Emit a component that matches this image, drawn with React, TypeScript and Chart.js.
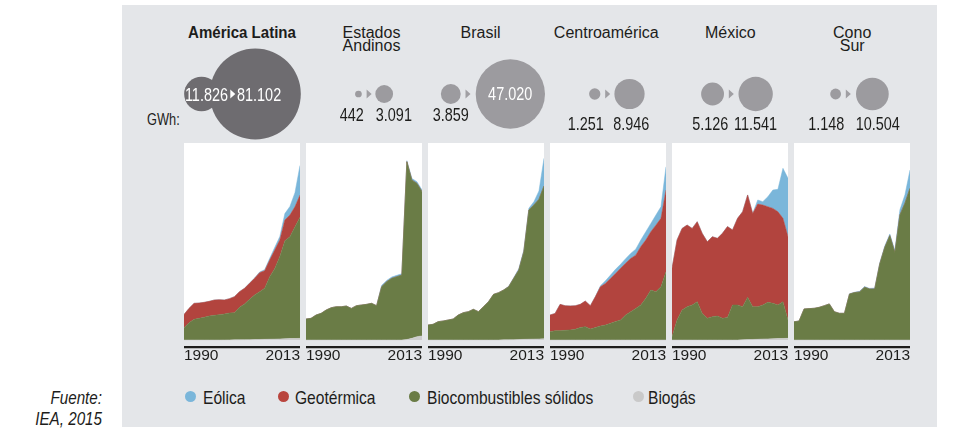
import React, { useEffect, useRef } from "react";
import { Chart, registerables } from "chart.js";

Chart.register(...registerables);

// ---------------- data ----------------
const YEARS = [
  "1990", "1991", "1992", "1993", "1994", "1995", "1996", "1997", "1998", "1999", "2000", "2001",
  "2002", "2003", "2004", "2005", "2006", "2007", "2008", "2009", "2010", "2011", "2012", "2013",
];

const REGIONS = ["América Latina", "Estados\nAndinos", "Brasil", "Centroamérica", "México", "Cono\nSur"];
const GWH_1990 = [11826, 442, 3859, 1251, 5126, 1148];
const GWH_2013 = [81102, 3091, 47020, 8946, 11541, 10504];
// top of each small chart's value axis (GWh)
const Y_MAX = [91300, 4110, 51000, 10170, 14070, 12170];

const SERIES_NAMES = ["Eólica", "Geotérmica", "Biocombustibles sólidos", "Biogás"];

// América Latina
const AL_EOLICA = [0, 0, 0, 0, 0, 0, 0, 0, 0, 0, 0, 0, 0, 150, 150, 300, 460, 770, 1240, 1550, 3000, 4000, 6500, 13700];
const AL_GEOTERMICA = [6180, 6640, 7420, 7110, 6950, 6800, 7110, 6950, 6490, 6640, 7420, 7260, 7260, 7420, 7730, 8810, 8190, 7730, 8500, 7730, 9580, 10040, 9270, 10350];
const AL_BIOCOMB = [5650, 8030, 9580, 10040, 10510, 11120, 11430, 11740, 12020, 12460, 12590, 15040, 16540, 18670, 20660, 22150, 23650, 29000, 32800, 38150, 45400, 47200, 51800, 56100];
const AL_BIOGAS = [0, 0, 0, 0, 0, 0, 0, 0, 30, 60, 80, 100, 150, 180, 200, 250, 300, 350, 400, 500, 600, 650, 700, 750];

// Estados Andinos
const EA_EOLICA = [0, 0, 0, 0, 0, 0, 0, 0, 0, 0, 0, 0, 0, 0, 0, 28, 28, 28, 28, 28, 21, 35, 35, 35];
const EA_GEOTERMICA = [0, 0, 0, 0, 0, 0, 0, 0, 0, 0, 0, 0, 0, 0, 0, 0, 0, 0, 0, 0, 0, 0, 0, 0];
const EA_BIOCOMB = [438, 452, 521, 556, 626, 674, 695, 695, 709, 660, 716, 730, 744, 765, 716, 1112, 1216, 1286, 1321, 1355, 3710, 3300, 3197, 3009];
const EA_BIOGAS = [0, 0, 0, 0, 0, 0, 0, 0, 0, 0, 0, 0, 0, 0, 0, 0, 0, 0, 0, 0, 10, 35, 70, 85];

// Brasil
const BR_EOLICA = [0, 0, 0, 0, 0, 0, 0, 0, 0, 0, 0, 0, 0, 0, 0, 0, 90, 170, 350, 430, 430, 860, 2160, 7160];
const BR_GEOTERMICA = [0, 0, 0, 0, 0, 0, 0, 0, 0, 0, 0, 0, 0, 0, 0, 0, 0, 0, 0, 0, 0, 0, 0, 0];
const BR_BIOCOMB = [3880, 4060, 4750, 4920, 5180, 5440, 6470, 7080, 7340, 7940, 7340, 8630, 9930, 11820, 12260, 12910, 13750, 15880, 17990, 22700, 33460, 34720, 36160, 39570];
const BR_BIOGAS = [0, 0, 0, 0, 0, 0, 0, 0, 0, 0, 0, 0, 0, 0, 0, 40, 60, 90, 130, 170, 200, 230, 260, 300];

// Centroamérica
const CA_EOLICA = [0, 0, 0, 0, 0, 0, 0, 0, 0, 0, 50, 140, 170, 210, 210, 240, 260, 310, 340, 430, 430, 520, 600, 1200];
const CA_GEOTERMICA = [860, 890, 1360, 1270, 1240, 1220, 1200, 1320, 1200, 1600, 2030, 2150, 2320, 2490, 2670, 2670, 2750, 2750, 3010, 3010, 3010, 3440, 3530, 4210];
const CA_BIOCOMB = [430, 480, 480, 500, 520, 550, 640, 690, 570, 640, 720, 770, 860, 950, 1030, 1290, 1460, 1630, 1810, 2150, 2580, 2490, 2750, 3530];
const CA_BIOGAS = [0, 0, 0, 0, 0, 0, 0, 0, 0, 0, 0, 0, 0, 0, 0, 0, 0, 0, 0, 0, 0, 0, 0, 0];

// México
const MX_EOLICA = [0, 0, 0, 0, 0, 0, 0, 0, 0, 0, 0, 0, 0, 0, 0, 0, 0, 290, 240, 710, 1310, 1600, 3570, 4170];
const MX_GEOTERMICA = [4880, 5710, 5830, 5830, 5470, 5710, 5710, 5470, 5710, 5550, 6070, 6500, 5360, 6190, 6780, 7310, 6660, 7330, 7140, 6830, 6780, 6660, 5950, 5950];
const MX_BIOCOMB = [240, 1430, 2140, 2380, 2500, 2740, 1900, 1550, 1670, 1710, 1550, 1600, 2500, 2500, 2360, 3020, 2340, 2330, 2430, 2610, 2530, 2400, 2630, 1310];
const MX_BIOGAS = [0, 0, 0, 0, 0, 0, 0, 0, 0, 0, 0, 0, 0, 0, 20, 30, 40, 50, 70, 80, 90, 100, 110, 120];

// Cono Sur
const CS_EOLICA = [0, 0, 0, 0, 0, 0, 0, 0, 0, 0, 0, 20, 20, 40, 40, 40, 60, 60, 80, 100, 140, 310, 520, 1130];
const CS_GEOTERMICA = [0, 0, 0, 0, 0, 0, 0, 0, 0, 0, 0, 0, 0, 0, 0, 0, 0, 0, 0, 0, 0, 0, 0, 0];
const CS_BIOCOMB = [1130, 1170, 1920, 1940, 1960, 2020, 2120, 2230, 1750, 1650, 1650, 2840, 2930, 2970, 3260, 3150, 3150, 4700, 5730, 6450, 5400, 7730, 8450, 9370];
const CS_BIOGAS = [0, 0, 0, 0, 0, 0, 0, 0, 0, 0, 0, 0, 0, 0, 0, 0, 0, 0, 0, 0, 0, 0, 0, 0];

const REGION_SERIES = [
  [AL_EOLICA, AL_GEOTERMICA, AL_BIOCOMB, AL_BIOGAS],
  [EA_EOLICA, EA_GEOTERMICA, EA_BIOCOMB, EA_BIOGAS],
  [BR_EOLICA, BR_GEOTERMICA, BR_BIOCOMB, BR_BIOGAS],
  [CA_EOLICA, CA_GEOTERMICA, CA_BIOCOMB, CA_BIOGAS],
  [MX_EOLICA, MX_GEOTERMICA, MX_BIOCOMB, MX_BIOGAS],
  [CS_EOLICA, CS_GEOTERMICA, CS_BIOCOMB, CS_BIOGAS],
];

// ---------------- style / layout ----------------
const COLORS = ["#7ab6da", "#b2443e", "#6a7c46", "#cdcdcd"];
const LEGEND_COLORS = ["#7ab6da", "#b9453e", "#6a7c46", "#c9c9c9"];
const BG = "#e4e6e9";
const INK = "#1d1d1b";
const FONT = "'Liberation Sans', Arial, sans-serif";
const SQUEEZE = 0.8; // horizontal condensing of the narrow typeface
const NUM_SQUEEZE = 0.76;
const LEGEND_SQUEEZE = 0.82;

const W = 953;
const H = 443;
const PANEL_W = 116;
const panelLeft = (i: number) => Math.round(184.4 + 121.95 * i);
const panelCenter = (i: number) => panelLeft(i) + PANEL_W / 2;
const PLOT_TOP = 143;
const ZERO_Y = 340;
const CANVAS_H = 222;
const AXIS_LABEL = 18; // x-axis height (font line)

const TITLE_DX = [0, 7.5, -5.5, -1.7, 0.3, 0.2];
// bubbles
const BUBBLE_H = 143;
const ROW_Y = 94;
const R_MAX = 45.5;
const TRI_DX = [-9.5, 4.8, -18.3, -0.6, 1, -4];
const GAP_S = [13.6, 7, 7, 7, 7, 7];
const GAP_B = [-22.7, 6.5, 8, 7, 7.5, 8];
// value labels, relative to the arrow position
const LBL_S_DX = [-4.5, -5, -17, -3.5, -2.7, -3.7];
const LBL_B_DX = [4.5, 7, 42.5, 5.8, 3, 7.7];
const LBL_S_ALIGN = ["right", "right", "center", "right", "right", "right"];
const LBL_B_ALIGN = ["left", "left", "center", "left", "left", "left"];
const LBL_S_Y = [101.3, 121, 121, 130, 130, 130];
const LBL_B_Y = [101.3, 121, 99.5, 130, 130, 130];
const INSIDE_S = [true, false, false, false, false, false];
const INSIDE_B = [true, false, true, false, false, false];
// legend layout (dot centre x, text start x)
const LEGEND_DOT_X = [190.5, 283.6, 414.7, 638.8];
const LEGEND_TEXT_X = [202.6, 295, 426.7, 648];

const fmt = (n: number) => String(n).replace(/\B(?=(\d{3})+(?!\d))/g, ".");
const radius = (v: number) => R_MAX * Math.sqrt(v / GWH_2013[0]);
const triX = (i: number) => panelCenter(i) + TRI_DX[i];
const smallX = (i: number) => triX(i) - GAP_S[i] - radius(GWH_1990[i]);
const bigX = (i: number) => triX(i) + GAP_B[i] + radius(GWH_2013[i]);

const panelBackground = {
  id: "panelBackground",
  beforeDraw(chart: any) {
    const { ctx, chartArea, scales } = chart;
    const zero = scales.y.getPixelForValue(0);
    ctx.save();
    ctx.fillStyle = "#ffffff";
    ctx.fillRect(chartArea.left, chartArea.top, chartArea.right - chartArea.left, zero - chartArea.top);
    ctx.restore();
  },
};

function Panel({ index }: { index: number }) {
  const ref = useRef<HTMLCanvasElement>(null);
  useEffect(() => {
    const [eol, geo, bio, biogas] = REGION_SERIES[index];
    const stack = [
      { d: biogas, c: 3 },
      { d: bio, c: 2 },
      { d: geo, c: 1 },
      { d: eol, c: 0 },
    ];
    const yMax = Y_MAX[index];
    const plotH = CANVAS_H - AXIS_LABEL;
    const zeroOff = ZERO_Y - PLOT_TOP;
    const yMin = -yMax * ((plotH - zeroOff) / zeroOff);
    const chart = new Chart(ref.current as HTMLCanvasElement, {
      type: "line",
      data: {
        labels: YEARS,
        datasets: stack.map((s, k) => ({
          label: SERIES_NAMES[s.c],
          data: s.d,
          backgroundColor: COLORS[s.c],
          borderColor: COLORS[s.c],
          borderWidth: 0.5,
          pointRadius: 0,
          tension: 0,
          fill: k === 0 ? "origin" : "-1",
        })),
      },
      options: {
        responsive: false,
        animation: false,
        events: [],
        layout: { padding: 0, autoPadding: false },
        plugins: { legend: { display: false }, tooltip: { enabled: false } },
        scales: {
          x: {
            grid: { display: false, drawTicks: false, tickLength: 0 },
            border: { display: true, color: INK, width: 2.2 },
            ticks: {
              autoSkip: false,
              maxRotation: 0,
              minRotation: 0,
              align: "inner",
              padding: 0,
              color: INK,
              font: { family: FONT, size: 15.5, lineHeight: 1.16 },
              callback: (_v: any, i: number, t: any[]) => (i === 0 || i === t.length - 1 ? YEARS[i] : ""),
            },
          },
          y: { display: false, stacked: true, min: yMin, max: yMax },
        },
      } as any,
      plugins: [panelBackground],
    });
    return () => chart.destroy();
  }, [index]);
  return (
    <canvas
      ref={ref}
      width={PANEL_W}
      height={CANVAS_H}
      style={{ position: "absolute", left: panelLeft(index), top: PLOT_TOP, width: PANEL_W, height: CANVAS_H }}
    />
  );
}

const bubbleDecor = {
  id: "bubbleDecor",
  afterDatasetsDraw(chart: any) {
    const { ctx, scales } = chart;
    REGIONS.forEach((_r, i) => {
      const t = triX(i);
      const tx = scales.x.getPixelForValue(t);
      const cy = scales.y.getPixelForValue(ROW_Y);
      ctx.save();
      ctx.fillStyle = i === 0 ? "#ffffff" : "#a09fa3";
      ctx.beginPath();
      ctx.moveTo(tx - 2.2, cy - 4.6);
      ctx.lineTo(tx + 2.8, cy);
      ctx.lineTo(tx - 2.2, cy + 4.6);
      ctx.closePath();
      ctx.fill();
      ctx.restore();
      const labels = [
        { x: t + LBL_S_DX[i], y: LBL_S_Y[i], a: LBL_S_ALIGN[i], s: fmt(GWH_1990[i]), inside: INSIDE_S[i] },
        { x: t + LBL_B_DX[i], y: LBL_B_Y[i], a: LBL_B_ALIGN[i], s: fmt(GWH_2013[i]), inside: INSIDE_B[i] },
      ];
      labels.forEach((l) => {
        const px = scales.x.getPixelForValue(l.x);
        const py = scales.y.getPixelForValue(l.y);
        ctx.save();
        ctx.translate(px, py);
        ctx.scale(NUM_SQUEEZE, 1);
        ctx.font = `19px ${FONT}`;
        ctx.textAlign = l.a;
        ctx.textBaseline = "alphabetic";
        ctx.fillStyle = l.inside ? "#ffffff" : INK;
        ctx.fillText(l.s, 0, 0);
        ctx.restore();
      });
    });
  },
};

function Bubbles() {
  const ref = useRef<HTMLCanvasElement>(null);
  useEffect(() => {
    const pts: { x: number; y: number; r: number }[] = [];
    const cols: string[] = [];
    REGIONS.forEach((_r, i) => {
      pts.push({ x: smallX(i), y: ROW_Y, r: radius(GWH_1990[i]) });
      pts.push({ x: bigX(i), y: ROW_Y, r: radius(GWH_2013[i]) });
      const c = i === 0 ? "#6e6c70" : "#9c9b9f";
      cols.push(c, c);
    });
    const chart = new Chart(ref.current as HTMLCanvasElement, {
      type: "bubble",
      data: {
        datasets: [
          {
            data: pts,
            backgroundColor: cols,
            borderWidth: 0,
            hoverRadius: 0,
            clip: false,
          } as any,
        ],
      },
      options: {
        responsive: false,
        animation: false,
        events: [],
        layout: { padding: 0, autoPadding: false },
        plugins: { legend: { display: false }, tooltip: { enabled: false } },
        scales: {
          x: { type: "linear", display: false, min: 0, max: W },
          y: { type: "linear", display: false, min: 0, max: BUBBLE_H, reverse: true },
        },
      } as any,
      plugins: [bubbleDecor],
    });
    return () => chart.destroy();
  }, []);
  return (
    <canvas
      ref={ref}
      width={W}
      height={BUBBLE_H}
      style={{ position: "absolute", left: 0, top: 0, width: W, height: BUBBLE_H }}
    />
  );
}

function Narrow({
  children,
  style,
  squeeze = SQUEEZE,
}: {
  children: React.ReactNode;
  style: React.CSSProperties;
  squeeze?: number;
}) {
  return (
    <div
      style={{
        position: "absolute",
        whiteSpace: "nowrap",
        fontFamily: FONT,
        color: INK,
        transform: `scaleX(${squeeze})`,
        ...style,
      }}
    >
      {children}
    </div>
  );
}

export default function App() {
  useEffect(() => {
    document.body.style.margin = "0";
  }, []);
  return (
    <div style={{ position: "absolute", left: 0, top: 0, width: W, height: H, overflow: "hidden", background: "#fff" }}>
      <div style={{ position: "absolute", left: 122, top: 5, width: 815, height: 422, background: BG }} />
      {REGIONS.map((name, i) => (
        <div
          key={name}
          style={{
            position: "absolute",
            left: panelCenter(i) + TITLE_DX[i] - 80,
            width: 160,
            top: 25.7,
            textAlign: "center",
            whiteSpace: "pre-line",
            fontFamily: FONT,
            fontSize: 16,
            lineHeight: "13px",
            fontWeight: i === 0 ? 700 : 400,
            color: INK,
            transform: i === 0 ? "scaleX(0.94)" : undefined,
          }}
        >
          {name}
        </div>
      ))}
      <Narrow style={{ left: 147, top: 111.5, fontSize: 16, lineHeight: "16px", transformOrigin: "left center" }}>
        GWh:
      </Narrow>
      <Bubbles />
      {REGIONS.map((name, i) => (
        <Panel key={name} index={i} />
      ))}
      {SERIES_NAMES.map((s, k) => (
        <React.Fragment key={s}>
          <div
            style={{
              position: "absolute",
              left: LEGEND_DOT_X[k] - 5.7,
              top: 396.8 - 5.7,
              width: 11.4,
              height: 11.4,
              borderRadius: "50%",
              background: LEGEND_COLORS[k],
            }}
          />
          <Narrow
            squeeze={LEGEND_SQUEEZE}
            style={{
              left: LEGEND_TEXT_X[k],
              top: 388,
              fontSize: 19,
              lineHeight: "19px",
              transformOrigin: "left center",
            }}
          >
            {s}
          </Narrow>
        </React.Fragment>
      ))}
      <Narrow
        style={{
          left: 0,
          width: 102,
          top: 386.5,
          textAlign: "right",
          fontStyle: "italic",
          fontSize: 19,
          lineHeight: "21px",
          transformOrigin: "right center",
        }}
      >
        Fuente:
        <br />
        IEA, 2015
      </Narrow>
    </div>
  );
}
